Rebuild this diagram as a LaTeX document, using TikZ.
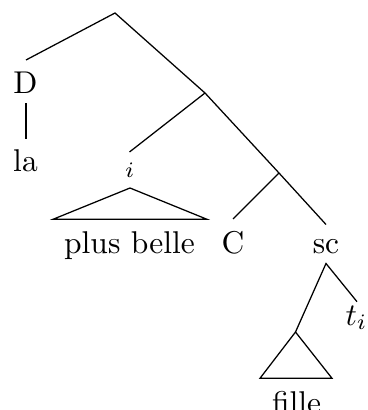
\documentclass[tikz,border=0pt]{standalone}
\begin{document}
\begin{tikzpicture}[x=0.3175pt,y=-0.3175pt,
  lbl/.style={anchor=base,inner sep=0pt,font=\fontsize{10}{12}\selectfont},
  edge/.style={line width=0.4pt}]
\useasboundingbox (0,0) rectangle (367,410);
% branch points
\coordinate (root) at (115,13);
\coordinate (Dtop) at (26,60);
\coordinate (n1) at (205,93);
\coordinate (itop) at (129.5,152);
\coordinate (n2) at (279,173);
\coordinate (Ctop) at (233,219);
\coordinate (sctop) at (326,224.5);
\coordinate (Dbot) at (26,103.5);
\coordinate (latop) at (26,139.5);
\coordinate (apA) at (130,188);
\coordinate (baL) at (53,219.3);
\coordinate (baR) at (207,219.3);
\coordinate (scbot) at (326,263.5);
\coordinate (apB) at (295.5,332);
\coordinate (ttop) at (357,301.7);
\coordinate (bbL) at (260,378.3);
\coordinate (bbR) at (332,378.3);
% labels
\node[lbl] (D) at (25.5,93.3) {D};
\node[lbl] (la) at (25.5,171.7) {la};
\node[lbl,font=\fontsize{7}{8}\selectfont] (i) at (129.5,178) {$i$};
\node[lbl] (pb) at (129.5,253) {plus belle};
\node[lbl] (C) at (233,253) {C};
\node[lbl] (sc) at (326,253) {sc};
\node[lbl] (t) at (356.5,325) {$t_i$};
\node[lbl] (fille) at (296.5,413) {fille};
% edges
\draw[edge] (Dtop) -- (root) -- (n1) -- (n2) -- (sctop);
\draw[edge] (n1) -- (itop);
\draw[edge] (n2) -- (Ctop);
\draw[edge] (Dbot) -- (latop);
\draw[edge] (baL) -- (apA) -- (baR) -- cycle;
\draw[edge] (apB) -- (scbot) -- (ttop);
\draw[edge] (bbL) -- (apB) -- (bbR) -- cycle;
\end{tikzpicture}
\end{document}
